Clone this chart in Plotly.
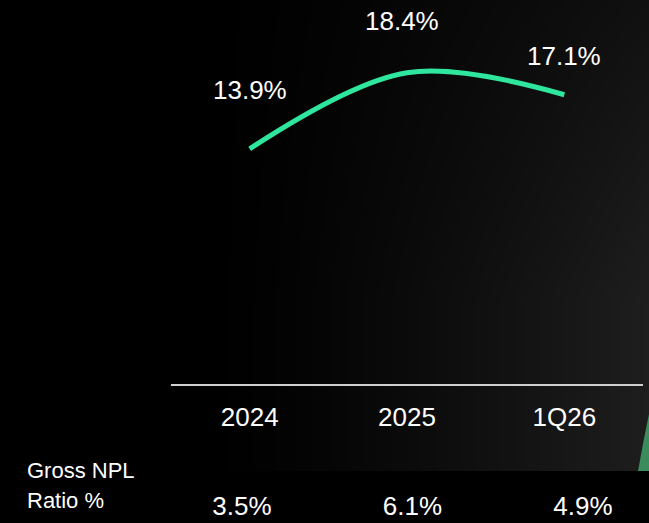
import numpy as np
import plotly.graph_objects as go

# ---- data ----
categories = ["2024", "2025", "1Q26"]
ratio_values = [13.9, 18.4, 17.1]          # line series (%)
ratio_labels = ["13.9%", "18.4%", "17.1%"]
npl_values = [3.5, 6.1, 4.9]                # Gross NPL ratio (%)
npl_labels = ["3.5%", "6.1%", "4.9%"]
row_title = "Gross NPL"
row_title2 = "Ratio %"

# ---- style ----
W, H = 649, 523
FONT = "Liberation Sans, Arial, sans-serif"
LINE_COLOR = "#2EE69E"
label_yshift = [59, 52, 39]
label_xshift = [0, -5, 0]

fig = go.Figure()

# background gradient (decoration)
nx, ny = 60, 40
gx = np.linspace(0, 1, nx)
gy = np.linspace(0, 1, ny)
PX = gx[None, :] * W
PY = (1 - gy[:, None]) * 471
zx = np.clip((PX - 210) / 440, 0, 1) ** 1.3
zy = 0.55 + 0.45 * np.clip(PY / 300, 0, 1)
zbg = zx * zy
fig.add_trace(go.Heatmap(
    x=gx, y=gy, z=zbg, zmin=0, zmax=1, zsmooth="best",
    colorscale=[[0, "#000000"], [1, "#1d1e1d"]], showscale=False,
    hoverinfo="skip", xaxis="x", yaxis="y"))

# main line
fig.add_trace(go.Scatter(
    x=categories, y=ratio_values, mode="lines",
    line=dict(color=LINE_COLOR, width=5, shape="spline", smoothing=1),
    xaxis="x2", yaxis="y2", hoverinfo="skip", showlegend=False))

# bottom row values
fig.add_trace(go.Scatter(
    x=categories, y=[0] * len(npl_values), mode="text", text=npl_labels,
    textfont=dict(size=26, color="white", family=FONT),
    xaxis="x3", yaxis="y3", hoverinfo="skip", showlegend=False,
    cliponaxis=False))

annotations = []
for i, (v, t, ys, xs) in enumerate(zip(ratio_values, ratio_labels, label_yshift, label_xshift)):
    annotations.append(dict(x=i, y=v, xref="x2", yref="y2", text=t, showarrow=False,
                            yshift=ys, xshift=xs,
                            font=dict(size=26, color="white", family=FONT)))
annotations.append(dict(x=25 / W, y=1 - 470 / H, xref="paper", yref="paper", text=row_title,
                        showarrow=False, xanchor="left", yanchor="middle",
                        font=dict(size=22, color="white", family=FONT)))
annotations.append(dict(x=25 / W, y=1 - 500 / H, xref="paper", yref="paper", text=row_title2,
                        showarrow=False, xanchor="left", yanchor="middle",
                        font=dict(size=22, color="white", family=FONT)))

# green sliver at bottom-right
def p(x, y):
    return f"{x / W:.4f},{1 - y / H:.4f}"

shapes = [dict(type="path", xref="paper", yref="paper", layer="above",
               path=f"M {p(649, 414)} Q {p(643, 442)} {p(638, 471)} L {p(649, 471)} Z",
               fillcolor="#3a8c5c", line=dict(width=0))]

x_dom = [171 / W, 643 / W]
fig.update_layout(
    width=W, height=H,
    margin=dict(l=0, r=0, t=0, b=0),
    paper_bgcolor="#000000", plot_bgcolor="rgba(0,0,0,0)",
    showlegend=False,
    font=dict(family=FONT, color="white"),
    xaxis=dict(domain=[0, 1], range=[0, 1], visible=False, fixedrange=True),
    yaxis=dict(domain=[52 / H, 1], range=[0, 1], visible=False, fixedrange=True),
    xaxis2=dict(domain=x_dom, anchor="y2", type="category", range=[-0.5, 2.5],
                showline=True, linecolor="#cfcfcf", linewidth=2,
                showgrid=False, zeroline=False,
                ticks="outside", ticklen=9, tickcolor="rgba(0,0,0,0)",
                tickfont=dict(size=26, color="white", family=FONT)),
    yaxis2=dict(domain=[1 - 384 / H, 1], anchor="x2", range=[0, 22.7], visible=False),
    xaxis3=dict(domain=x_dom, anchor="y3", type="category", range=[-0.4164, 2.352],
                visible=False),
    yaxis3=dict(domain=[0, 52 / H], anchor="x3", range=[-0.27, 0.73], visible=False),
    annotations=annotations,
    shapes=shapes,
)

fig.write_html("out.html")
